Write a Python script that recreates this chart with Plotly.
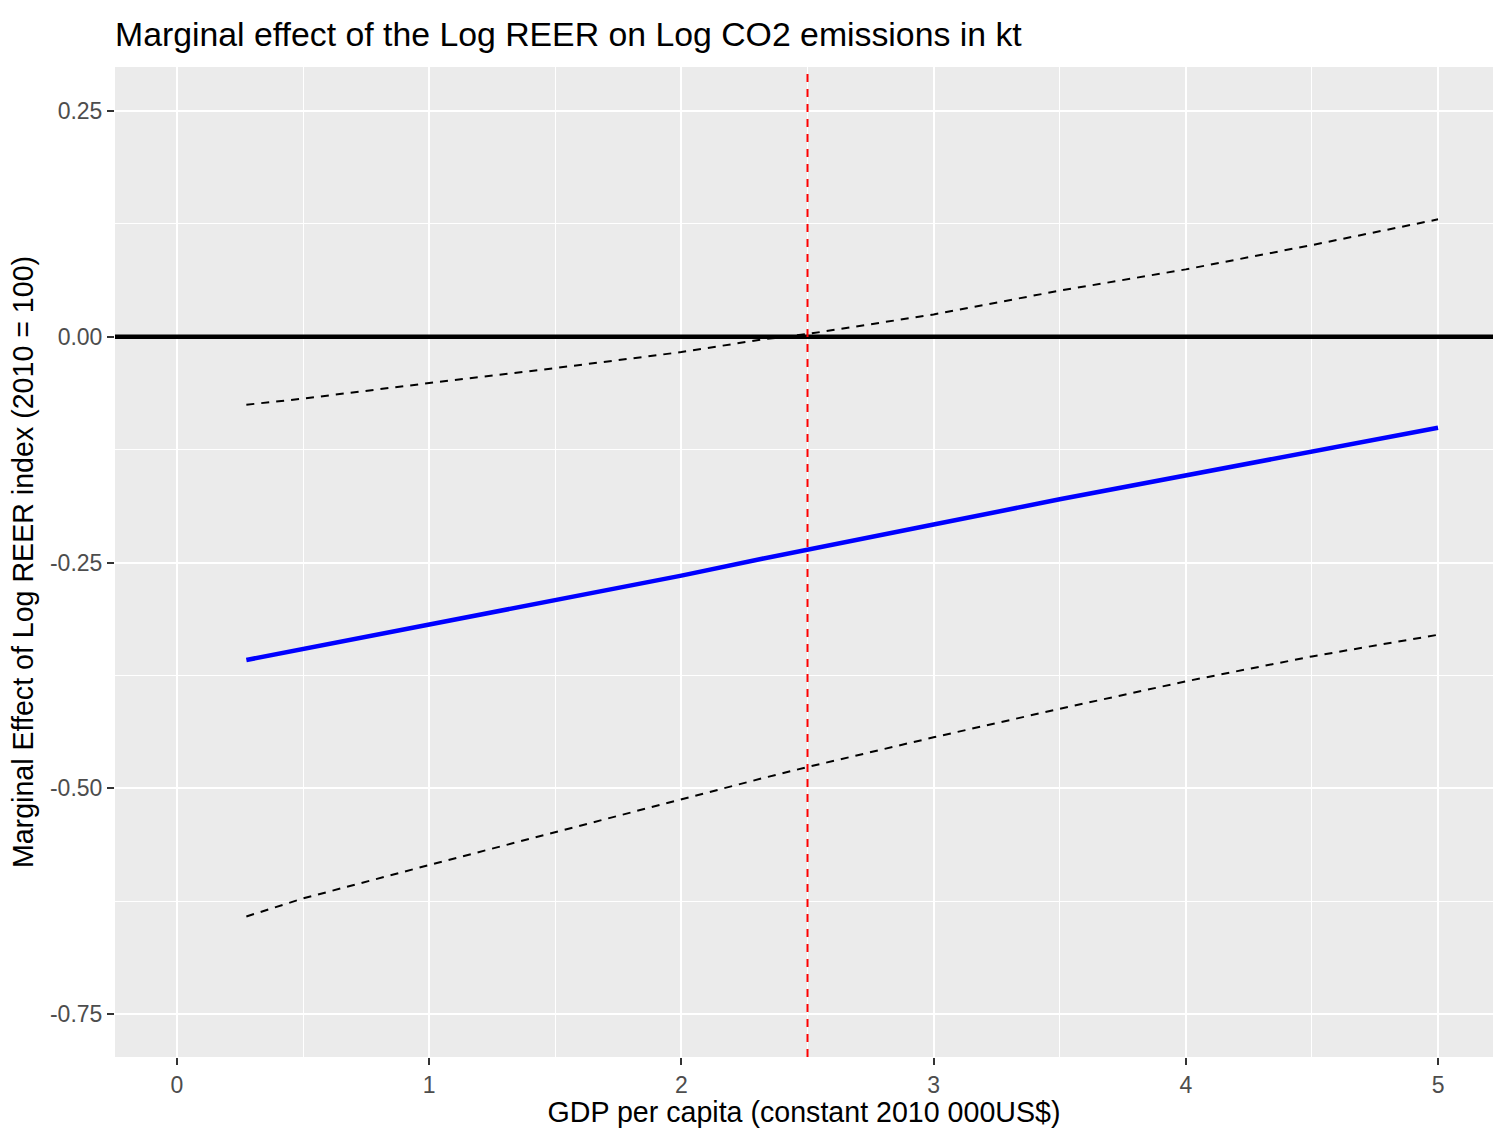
import plotly.graph_objects as go

# ---- data ----
gdp_pc = [0.275, 0.5, 1.0, 1.5, 2.0, 2.32, 2.5, 3.0, 3.5, 4.0, 4.5, 5.0]
marginal_effect = [-0.358, -0.3458, -0.3188, -0.291, -0.2645, -0.2458, -0.236, -0.208, -0.180, -0.1538, -0.1268, -0.1008]
upper_ci = [-0.0753, -0.0685, -0.0513, -0.0347, -0.0170, -0.003, 0.003, 0.0247, 0.051, 0.0746, 0.1015, 0.130]
lower_ci = [-0.642, -0.622, -0.585, -0.5485, -0.5116, -0.489, -0.4765, -0.4436, -0.412, -0.3816, -0.354, -0.330]
threshold_x = 2.5
zero_y = 0.0
x_ticks = [0, 1, 2, 3, 4, 5]
y_ticks = [0.25, 0.0, -0.25, -0.5, -0.75]
y_ticklabels = ["0.25", "0.00", "-0.25", "-0.50", "-0.75"]

FONT = "Liberation Sans, Arial, sans-serif"

fig = go.Figure()
fig.add_trace(go.Scatter(x=gdp_pc, y=upper_ci, mode="lines",
                         line=dict(color="black", width=2, dash="8px,7px"),
                         showlegend=False, hoverinfo="skip"))
fig.add_trace(go.Scatter(x=gdp_pc, y=lower_ci, mode="lines",
                         line=dict(color="black", width=2, dash="8px,7px"),
                         showlegend=False, hoverinfo="skip"))
fig.add_trace(go.Scatter(x=gdp_pc, y=marginal_effect, mode="lines",
                         line=dict(color="#0000FF", width=4.5),
                         showlegend=False))

fig.add_hline(y=zero_y, line=dict(color="black", width=4.5))
fig.add_vline(x=threshold_x, line=dict(color="#FF0000", width=2, dash="8px,7px"))

fig.update_layout(
    width=1493, height=1128,
    margin=dict(l=115, r=0, t=67, b=71),
    paper_bgcolor="white",
    plot_bgcolor="#EBEBEB",
    font=dict(family=FONT, color="black"),
    title=dict(text="Marginal effect of the Log REER on Log CO2 emissions in kt",
               font=dict(family=FONT, size=33.8, color="black"),
               x=115 / 1493, xanchor="left", xref="container",
               y=1 - 34 / 1128, yanchor="middle", yref="container"),
)

fig.update_xaxes(
    range=[-0.2458, 5.218],
    tickvals=x_ticks,
    ticktext=[str(v) for v in x_ticks],
    ticks="outside", ticklen=7, tickwidth=1.5, tickcolor="#333333",
    tickfont=dict(family=FONT, size=23, color="#4D4D4D"),
    showgrid=True, gridcolor="white", gridwidth=2,
    minor=dict(dtick=0.5, tick0=0, showgrid=True, gridcolor="white", gridwidth=1),
    zeroline=False, showline=False,
    title=dict(text="GDP per capita (constant 2010 000US$)",
               font=dict(family=FONT, size=28.6, color="black"), standoff=5),
)
fig.update_yaxes(
    range=[-0.7976, 0.2987],
    tickvals=y_ticks,
    ticktext=y_ticklabels,
    ticks="outside", ticklen=7, tickwidth=1.5, tickcolor="#333333",
    tickfont=dict(family=FONT, size=23, color="#4D4D4D"),
    showgrid=True, gridcolor="white", gridwidth=2,
    minor=dict(dtick=0.125, tick0=0, showgrid=True, gridcolor="white", gridwidth=1),
    zeroline=False, showline=False,
    title=dict(text="Marginal Effect of Log REER index (2010 = 100)",
               font=dict(family=FONT, size=28.6, color="black"), standoff=7),
)

fig.write_html("out.html")
